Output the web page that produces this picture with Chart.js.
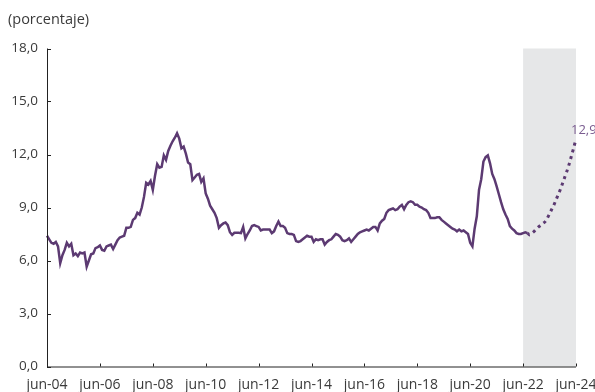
<!DOCTYPE html>
<html>
<head>
<meta charset="utf-8">
<script src="https://cdn.jsdelivr.net/npm/chart.js@4"></script>
<style>
  html, body { margin: 0; padding: 0; background: #fff; }
  #wrap { width: 595px; height: 392px; }
</style>
</head>
<body>
<div id="wrap"><canvas id="myChart" width="595" height="392"></canvas></div>
<script>
// monthly series from jun-04 (index 0) to jun-24 (index 240)
const monthNames = ['ene','feb','mar','abr','may','jun','jul','ago','sep','oct','nov','dic'];
const tickLabels = ['jun-04','jun-06','jun-08','jun-10','jun-12','jun-14','jun-16','jun-18','jun-20','jun-22','jun-24'];

// observed values, jun-04 .. ago-22
const actual = [
  7.4, 7.2, 7.0, 6.95, 7.05, 6.8, 5.85, 6.3, 6.6, 7.0, 6.8, 6.95,
  6.3, 6.4, 6.25, 6.45, 6.4, 6.45, 5.65, 6.0, 6.35, 6.4, 6.7, 6.75,
  6.85, 6.6, 6.55, 6.8, 6.85, 6.9, 6.65, 6.9, 7.15, 7.3, 7.35, 7.4,
  7.85, 7.85, 7.9, 8.3, 8.4, 8.7, 8.6, 9.0, 9.6, 10.4, 10.3, 10.5,
  10.0, 10.8, 11.45, 11.25, 11.3, 11.95, 11.7, 12.2, 12.5, 12.75, 12.95, 13.2,
  12.9, 12.35, 12.45, 12.05, 11.55, 11.45, 10.55, 10.7, 10.85, 10.9, 10.45, 10.65,
  9.8, 9.5, 9.1, 8.9, 8.7, 8.4, 7.85, 8.0, 8.1, 8.15, 8.0, 7.6,
  7.45, 7.57, 7.57, 7.57, 7.55, 7.9, 7.25, 7.5, 7.7, 7.95, 8.0, 7.95,
  7.9, 7.7, 7.75, 7.75, 7.75, 7.75, 7.55, 7.65, 7.95, 8.2, 7.95, 7.95,
  7.85, 7.55, 7.5, 7.5, 7.45, 7.1, 7.05, 7.1, 7.2, 7.3, 7.4, 7.35,
  7.35, 7.05, 7.2, 7.15, 7.2, 7.2, 6.9, 7.05, 7.15, 7.2, 7.35, 7.5,
  7.45, 7.35, 7.15, 7.1, 7.15, 7.25, 7.05, 7.2, 7.35, 7.5, 7.6, 7.65,
  7.7, 7.75, 7.7, 7.8, 7.9, 7.9, 7.7, 8.1, 8.25, 8.35, 8.7, 8.85,
  8.9, 8.95, 8.85, 8.9, 9.05, 9.15, 8.9, 9.15, 9.3, 9.35, 9.3, 9.15,
  9.15, 9.05, 9.0, 8.9, 8.85, 8.7, 8.4, 8.4, 8.4, 8.45, 8.45, 8.3,
  8.2, 8.1, 8.0, 7.9, 7.8, 7.75, 7.65, 7.75, 7.65, 7.7, 7.6, 7.5,
  7.0, 6.8, 7.8, 8.5, 10.0, 10.6, 11.6, 11.85, 11.95, 11.5, 10.9, 10.6,
  10.2, 9.75, 9.3, 8.9, 8.6, 8.35, 7.95, 7.8, 7.7, 7.55, 7.5, 7.5,
  7.55, 7.6, 7.55
];

// projection, ago-22 .. jun-24
const forecast = [
  7.55, 7.45, 7.55, 7.65, 7.78, 7.9, 8.0, 8.1, 8.2, 8.4, 8.65, 8.9,
  9.15, 9.45, 9.75, 10.05, 10.4, 10.75, 11.1, 11.5, 11.95, 12.4, 12.9
];

const forecastStart = actual.length - 1;
const shadeFrom = 'jun-22';
const lastLabel = '12,9';

const labels = [];
for (let i = 0; i <= 240; i++) {
  const m = (5 + i) % 12;
  const y = 4 + Math.floor((5 + i) / 12);
  labels.push(monthNames[m] + '-' + String(y).padStart(2, '0'));
}

const actualData = labels.map((l, i) => i < actual.length ? actual[i] : null);
const forecastData = labels.map((l, i) => i >= forecastStart ? forecast[i - forecastStart] : null);

const purple = '#5c3a72';
const textColor = '#3a3a3a';
const fontFamily = '"Open Sans", "Noto Sans", sans-serif';

const decor = {
  id: 'decor',
  beforeDatasetsDraw(chart) {
    const {ctx, chartArea: {top, bottom}, scales: {x}} = chart;
    const x1 = x.getPixelForValue(labels.indexOf(shadeFrom));
    const x2 = x.getPixelForValue(labels.length - 1);
    ctx.save();
    ctx.fillStyle = '#e6e7e8';
    ctx.fillRect(x1, top, x2 - x1, bottom - top);
    ctx.restore();
  },
  afterDatasetsDraw(chart) {
    const {ctx, chartArea: {left, right, top, bottom}, scales: {x, y}} = chart;
    ctx.save();
    ctx.strokeStyle = '#222';
    ctx.lineWidth = 1;
    ctx.beginPath();
    ctx.moveTo(left + 0.5, top);
    ctx.lineTo(left + 0.5, bottom + 0.5);
    ctx.lineTo(right, bottom + 0.5);
    // y ticks, pointing inside
    y.ticks.forEach(t => {
      const py = Math.round(y.getPixelForValue(t.value)) + 0.5;
      ctx.moveTo(left, py);
      ctx.lineTo(left + 4, py);
    });
    // x ticks, pointing up
    tickLabels.forEach(l => {
      const px = Math.round(x.getPixelForValue(labels.indexOf(l))) + 0.5;
      ctx.moveTo(px, bottom);
      ctx.lineTo(px, bottom - 3);
    });
    ctx.stroke();

    ctx.font = '14.5px ' + fontFamily;
    ctx.fillStyle = textColor;
    ctx.textAlign = 'left';
    ctx.textBaseline = 'middle';
    ctx.fillText('(porcentaje)', 8, 20);

    ctx.font = '13px ' + fontFamily;
    ctx.fillStyle = '#7a5c90';
    ctx.fillText(lastLabel, 571, 130);
    ctx.restore();
  }
};

const config = {
  type: 'line',
  data: {
    labels: labels,
    datasets: [{
      data: actualData,
      borderColor: purple,
      borderWidth: 2.5,
      pointRadius: 0,
      tension: 0,
      spanGaps: false
    }, {
      data: forecastData,
      borderColor: purple,
      borderWidth: 3,
      borderDash: [3, 4],
      pointRadius: 0,
      tension: 0.3,
      spanGaps: false
    }]
  },
  options: {
    responsive: false,
    animation: false,
    events: [],
    layout: { padding: { left: 0, top: 48.5, right: 19, bottom: 0 } },
    plugins: { legend: { display: false }, tooltip: { enabled: false } },
    scales: {
      x: {
        type: 'category',
        offset: false,
        grid: { display: false, drawTicks: false },
        border: { display: false },
        ticks: {
          autoSkip: false,
          maxRotation: 0,
          padding: 10,
          color: textColor,
          font: { family: fontFamily, size: 14 },
          callback: function(v) {
            const l = labels[v];
            return tickLabels.includes(l) ? l : '';
          }
        },
        afterFit(scale) {
          scale.height = 25.5;
          scale.paddingLeft = 0;
          scale.paddingRight = 0;
        }
      },
      y: {
        min: 0,
        max: 18,
        grid: { display: false, drawTicks: false },
        border: { display: false },
        ticks: {
          stepSize: 3,
          padding: 9,
          color: textColor,
          font: { family: fontFamily, size: 13.5 },
          callback: v => v.toFixed(1).replace('.', ',')
        },
        afterFit(scale) {
          scale.width = 47;
          scale.paddingTop = 0;
          scale.paddingBottom = 0;
        }
      }
    }
  },
  plugins: [decor]
};

const myChart = new Chart(document.getElementById('myChart'), config);
</script>
</body>
</html>
